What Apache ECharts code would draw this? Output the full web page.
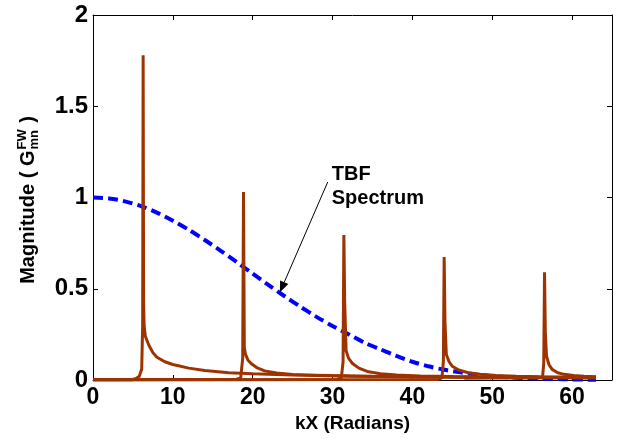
<!DOCTYPE html>
<html>
<head>
<meta charset="utf-8">
<script src="https://cdn.jsdelivr.net/npm/echarts@6/dist/echarts.min.js"></script>
<style>
html,body{margin:0;padding:0;background:#fff;}
#c{width:619px;height:439px;}
</style>
</head>
<body>
<div id="c"></div>
<script>
// ---- data ----
const xTicks = [0, 10, 20, 30, 40, 50, 60];
const yTicks = [0, 0.5, 1, 1.5, 2];

const tbfX = [0, 2, 4, 6, 8, 10, 12, 14, 16, 18, 20, 22, 24, 26, 28, 30, 32, 34, 36, 38, 40, 42, 44, 46, 48, 50, 52, 54, 56, 58, 60, 62, 63];
const tbfY = [1.0, 0.995, 0.979, 0.953, 0.917, 0.873, 0.823, 0.767, 0.708, 0.646, 0.583, 0.520, 0.459, 0.401, 0.346, 0.296, 0.251, 0.205, 0.168, 0.132, 0.100, 0.075, 0.056, 0.042, 0.030, 0.021, 0.015, 0.010, 0.007, 0.005, 0.003, 0.002, 0.002];

const mode1X = [0, 4.8, 5.4, 5.8, 6.1, 6.22, 6.28, 6.34, 6.4, 6.55, 7.0, 7.5, 8, 9, 10, 12, 14, 17, 20, 25, 30, 35, 40, 45, 50, 55, 60, 63];
const mode1Y = [0, 0, 0.008, 0.02, 0.06, 0.3, 1.78, 0.42, 0.3, 0.24, 0.19, 0.15, 0.125, 0.1, 0.085, 0.065, 0.052, 0.04, 0.034, 0.028, 0.024, 0.021, 0.019, 0.017, 0.015, 0.014, 0.013, 0.012];

const mode2X = [0, 18.0, 18.5, 18.75, 18.85, 18.95, 19.1, 19.4, 19.8, 20.5, 21.5, 23, 25, 28, 32, 36, 40, 45, 50, 55, 60, 63];
const mode2Y = [0.003, 0.004, 0.012, 0.12, 1.03, 0.18, 0.14, 0.11, 0.09, 0.068, 0.05, 0.038, 0.03, 0.025, 0.021, 0.019, 0.017, 0.015, 0.014, 0.013, 0.012, 0.012];

const mode3X = [0, 30.6, 31.1, 31.32, 31.42, 31.52, 31.7, 32, 32.5, 33.3, 34.5, 36, 38, 41, 45, 50, 55, 60, 63];
const mode3Y = [0, 0.003, 0.012, 0.1, 0.795, 0.43, 0.16, 0.12, 0.09, 0.065, 0.045, 0.034, 0.027, 0.022, 0.019, 0.016, 0.015, 0.014, 0.013];

const mode4X = [0, 43.2, 43.7, 43.88, 43.98, 44.08, 44.25, 44.6, 45, 45.8, 47, 48.5, 50.5, 53, 56, 60, 63];
const mode4Y = [0, 0.003, 0.012, 0.1, 0.674, 0.32, 0.14, 0.1, 0.075, 0.055, 0.04, 0.031, 0.025, 0.021, 0.018, 0.016, 0.015];

const mode5X = [46.5, 50, 55.8, 56.3, 56.45, 56.55, 56.65, 56.8, 57.1, 57.5, 58.2, 59, 60.2, 61.5, 63];
const mode5Y = [0.01, 0.011, 0.012, 0.016, 0.09, 0.59, 0.26, 0.13, 0.085, 0.058, 0.04, 0.031, 0.025, 0.021, 0.018];

const xName = 'kX (Radians)';
const yNameMain = 'Magnitude ( G';
const yNameSup = 'FW';
const yNameSub = 'mn';
const yNameEnd = ' )';
const annoLines = ['TBF', 'Spectrum'];

// ---- chart ----
const FONT = '"Liberation Sans", Arial, Helvetica, sans-serif';
const BROWN = '#9c3300';
const zip = (xs, ys) => xs.map((x, i) => [x, ys[i]]);
const modes = [[mode1X, mode1Y], [mode2X, mode2Y], [mode3X, mode3Y], [mode4X, mode4Y], [mode5X, mode5Y]];

const chart = echarts.init(document.getElementById('c'), null, {renderer: 'canvas'});

const frameAxis = () => ({
  axisLine: {show: true, onZero: false, lineStyle: {color: '#000', width: 1}},
  axisTick: {show: true, inside: true, length: 5, lineStyle: {color: '#000'}},
  splitLine: {show: false}
});

const option = {
  animation: false,
  backgroundColor: '#fff',
  grid: {left: 93, right: 7, top: 15, bottom: 59, containLabel: false},
  xAxis: [
    Object.assign({
      type: 'value', min: xTicks[0], max: 65, interval: xTicks[1] - xTicks[0], position: 'bottom',
      axisLabel: {show: true, color: '#000', fontFamily: FONT, fontWeight: 'bold', fontSize: 23, margin: 6, showMaxLabel: false},
      name: xName, nameLocation: 'middle', nameGap: 32,
      nameTextStyle: {color: '#000', fontFamily: FONT, fontWeight: 'bold', fontSize: 19}
    }, frameAxis()),
    Object.assign({
      type: 'value', min: xTicks[0], max: 65, interval: xTicks[1] - xTicks[0], position: 'top',
      axisLabel: {show: false}
    }, frameAxis())
  ],
  yAxis: [
    Object.assign({
      type: 'value', min: yTicks[0], max: yTicks[yTicks.length - 1], interval: yTicks[1] - yTicks[0], position: 'left',
      axisLabel: {show: true, color: '#000', fontFamily: FONT, fontWeight: 'bold', fontSize: 24, margin: 5}
    }, frameAxis()),
    Object.assign({
      type: 'value', min: yTicks[0], max: yTicks[yTicks.length - 1], interval: yTicks[1] - yTicks[0], position: 'right',
      axisLabel: {show: false}
    }, frameAxis())
  ],
  series: [
    {
      type: 'line', name: 'TBF Spectrum', data: zip(tbfX, tbfY), showSymbol: false, symbol: 'none',
      smooth: 0.3, lineStyle: {color: '#0000ff', width: 4, type: [10, 5]}, z: 2
    }
  ].concat(modes.map((m, i) => ({
    type: 'line', name: 'mode' + (i + 1), data: zip(m[0], m[1]), showSymbol: false, symbol: 'none',
    lineStyle: {color: BROWN, width: 3}, z: 3
  })))
};
chart.setOption(option);

// ---- annotations (positioned from data coordinates) ----
const ctx = document.createElement('canvas').getContext('2d');
function tw(text, size) { ctx.font = 'bold ' + size + 'px ' + FONT; return ctx.measureText(text).width; }

const Y_FS = 20, S_FS = 13;
const w1 = tw(yNameMain, Y_FS), wS = Math.max(tw(yNameSup, S_FS), tw(yNameSub, S_FS)), w2 = tw(yNameEnd, Y_FS);
const W = w1 + wS + 2 + w2;
const x0 = -W / 2;

const tip = chart.convertToPixel({xAxisIndex: 0, yAxisIndex: 0}, [23.4, 0.48]);
const tail = chart.convertToPixel({xAxisIndex: 0, yAxisIndex: 0}, [29.4, 1.085]);
const textPos = chart.convertToPixel({xAxisIndex: 0, yAxisIndex: 0}, [29.9, 1.19]);
const dx = tip[0] - tail[0], dy = tip[1] - tail[1];
const L = Math.sqrt(dx * dx + dy * dy), ux = dx / L, uy = dy / L;
const hl = 11, hw = 4.5;
const bx = tip[0] - ux * hl, by = tip[1] - uy * hl;

chart.setOption({
  graphic: [
    {
      type: 'group', x: 28, y: 200, rotation: Math.PI / 2,
      children: [
        {type: 'text', x: x0, y: 0, style: {text: yNameMain, font: 'bold ' + Y_FS + 'px ' + FONT, fill: '#000', verticalAlign: 'middle', align: 'left'}},
        {type: 'text', x: x0 + w1 + 1, y: -6, style: {text: yNameSup, font: 'bold ' + S_FS + 'px ' + FONT, fill: '#000', verticalAlign: 'middle', align: 'left'}},
        {type: 'text', x: x0 + w1 + 1, y: 6, style: {text: yNameSub, font: 'bold ' + S_FS + 'px ' + FONT, fill: '#000', verticalAlign: 'middle', align: 'left'}},
        {type: 'text', x: x0 + w1 + wS + 2, y: 0, style: {text: yNameEnd, font: 'bold ' + Y_FS + 'px ' + FONT, fill: '#000', verticalAlign: 'middle', align: 'left'}}
      ]
    },
    {
      type: 'text', x: textPos[0], y: textPos[1],
      style: {text: annoLines.join('\n'), font: 'bold 20px ' + FONT, fill: '#000', lineHeight: 24, align: 'left', verticalAlign: 'top'}
    },
    {
      type: 'line', shape: {x1: tail[0], y1: tail[1], x2: bx, y2: by},
      style: {stroke: '#000', lineWidth: 1}
    },
    {
      type: 'polygon',
      shape: {points: [[tip[0], tip[1]], [bx - uy * hw, by + ux * hw], [bx + uy * hw, by - ux * hw]]},
      style: {fill: '#000'}
    }
  ]
});
</script>
</body>
</html>
